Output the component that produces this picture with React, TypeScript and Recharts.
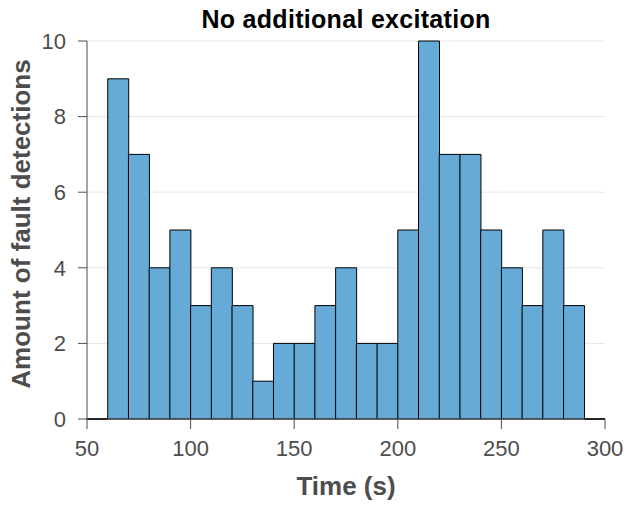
import { ComposedChart, Bar, XAxis, YAxis, CartesianGrid, ReferenceLine } from "recharts";

// histogram bins (10 s wide), left edges
const binStarts = [50, 60, 70, 80, 90, 100, 110, 120, 130, 140, 150, 160, 170, 180, 190, 200, 210, 220, 230, 240, 250, 260, 270, 280, 290];
const counts = [0, 9, 7, 4, 5, 3, 4, 3, 1, 2, 2, 3, 4, 2, 2, 5, 10, 7, 7, 5, 4, 3, 5, 3, 0];
const binWidth = 10;
const xTicks = [50, 100, 150, 200, 250, 300];
const yTicks = [0, 2, 4, 6, 8, 10];

const data = binStarts.map((s, i) => ({ mid: s + binWidth / 2, count: counts[i] }));
// empty bins still get an outline along the baseline
const emptyBins = binStarts.filter((_, i) => counts[i] === 0);

const axisColor = "#4d4d4d";
const font = "'Liberation Sans', Arial, sans-serif";

const App = () => {
    return (
        <div style={{ position: "relative", width: 629, height: 505, fontFamily: font }}>
            <style>{`body { margin: 0; } .recharts-surface { overflow: visible; }`}</style>
            <div
                style={{
                    position: "absolute",
                    top: 5,
                    left: 87,
                    width: 518,
                    textAlign: "center",
                    fontWeight: "bold",
                    fontSize: 25,
                    letterSpacing: 0.3,
                    color: "#000",
                    whiteSpace: "nowrap",
                }}
            >
                No additional excitation
            </div>
            <ComposedChart
                width={629}
                height={505}
                data={data}
                barCategoryGap={0}
                barGap={0}
                margin={{ top: 41, right: 24, bottom: 0, left: 37 }}
            >
                <CartesianGrid vertical={false} stroke="#e6e6e6" />
                <XAxis
                    type="number"
                    dataKey="mid"
                    domain={[50, 300]}
                    ticks={xTicks}
                    tickSize={10}
                    tickMargin={11}
                    stroke={axisColor}
                    tick={{ fill: axisColor, fontSize: 22, fontFamily: font }}
                    label={{
                        value: "Time (s)",
                        position: "insideBottom",
                        offset: 10,
                        fill: axisColor,
                        fontSize: 26,
                        fontWeight: "bold",
                        fontFamily: font,
                    }}
                    height={86}
                />
                <YAxis
                    domain={[0, 10]}
                    ticks={yTicks}
                    tickSize={9}
                    tickMargin={12}
                    width={50}
                    stroke={axisColor}
                    tick={{ fill: axisColor, fontSize: 22, fontFamily: font }}
                    label={{
                        value: "Amount of fault detections",
                        angle: -90,
                        position: "center",
                        dx: -41,
                        dy: -6,
                        fill: axisColor,
                        fontSize: 26,
                        fontWeight: "bold",
                        fontFamily: font,
                    }}
                />
                <Bar
                    dataKey="count"
                    fill="#66aad7"
                    stroke="#000"
                    strokeWidth={1}
                    isAnimationActive={false}
                />
                {emptyBins.map((s) => (
                    <ReferenceLine
                        key={s}
                        segment={[
                            { x: s, y: 0 },
                            { x: s + binWidth, y: 0 },
                        ]}
                        stroke="#000"
                        strokeWidth={2}
                    />
                ))}
            </ComposedChart>
        </div>
    );
};

export default App;
